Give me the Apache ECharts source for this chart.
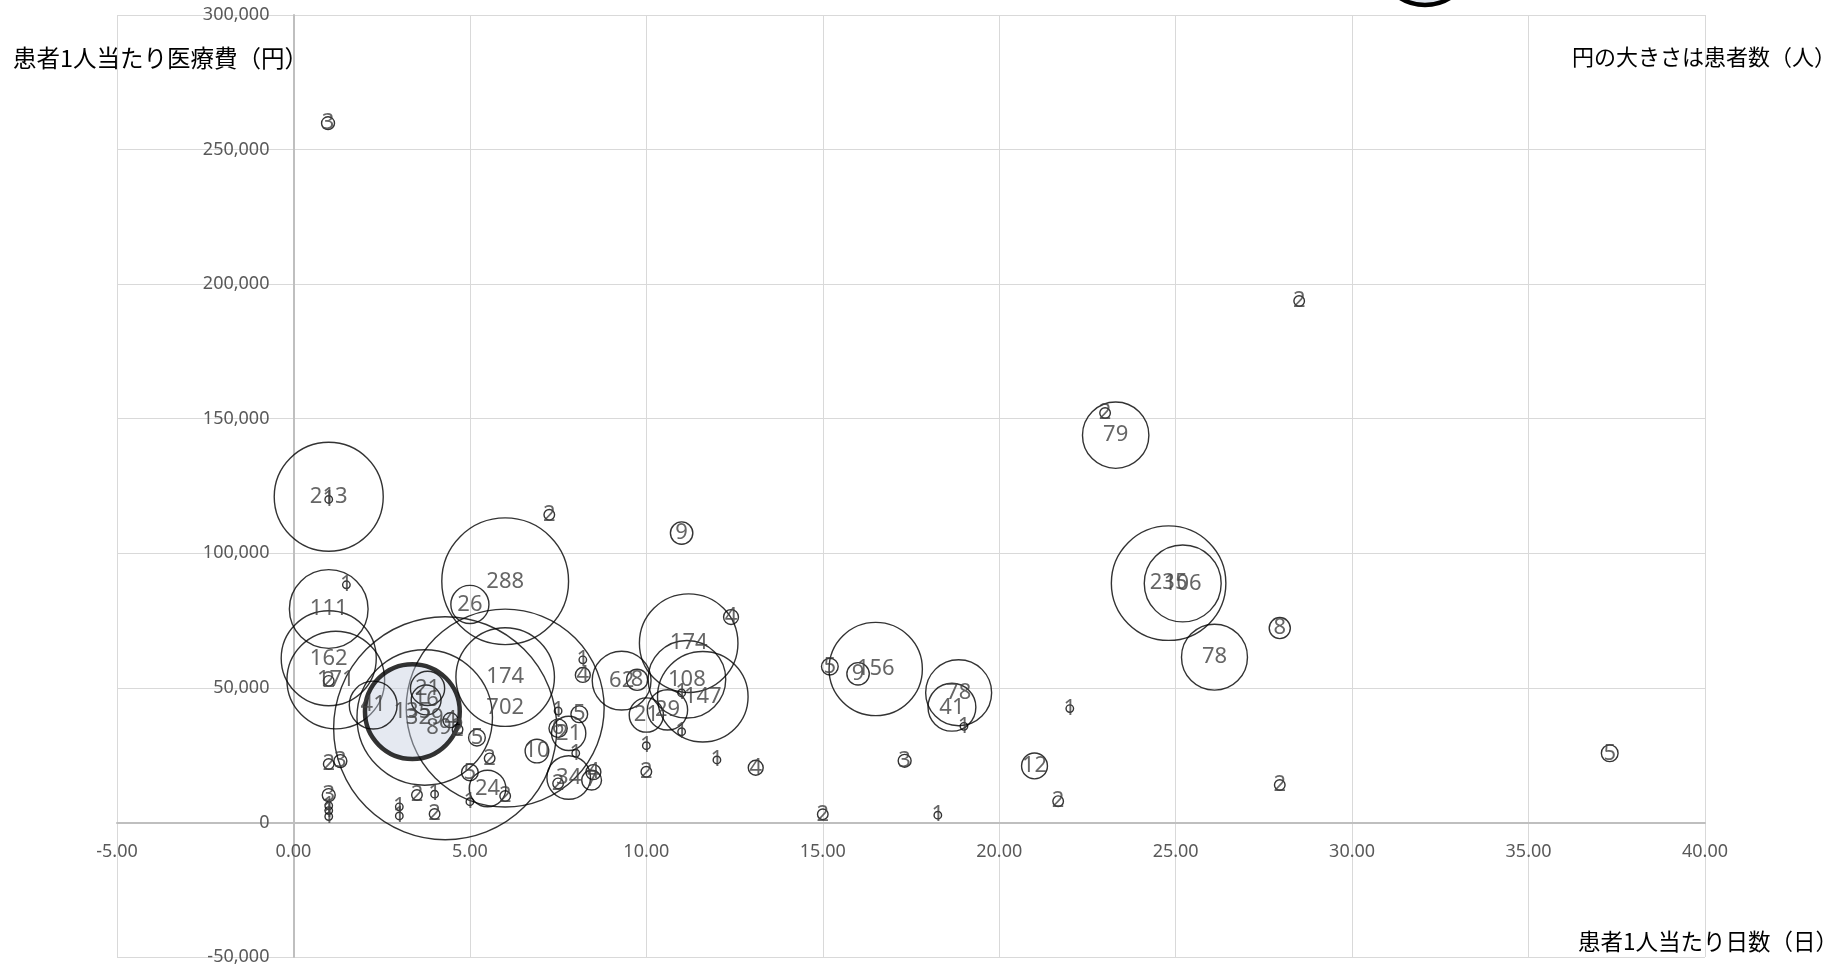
<!DOCTYPE html>
<html><head><meta charset="utf-8">
<script src="https://cdn.jsdelivr.net/npm/echarts@6/dist/echarts.min.js"></script>
<style>html,body{margin:0;padding:0;background:#fff}#c{width:1847px;height:971px}</style>
</head><body><div id="c"></div>
<script>
// 患者1人当たり日数（日）
const days = [0.98,1.0,1.0,1.5,1.0,1.0,1.2,1.0,2.26,1.0,1.33,1.0,1.0,1.0,1.0,3.0,3.0,3.5,4.0,4.0,5.0,5.0,5.5,6.0,5.56,5.2,6.9,6.0,6.0,4.3,3.72,3.8,3.76,4.45,4.65,5.0,6.0,7.25,11.0,8.2,8.2,9.3,9.74,7.5,8.1,7.5,7.8,8.0,7.8,7.5,8.45,8.5,10.0,10.0,10.0,10.6,11.2,12.4,11.15,11.6,11.0,11.0,12.0,13.1,15.0,15.2,16.0,16.5,18.85,18.66,19.0,17.32,18.26,21.0,21.67,22.0,23.0,23.3,28.5,24.8,25.2,27.95,26.1,27.95,37.3];
// 患者1人当たり医療費（円）
const costs = [259800,121000,120000,88300,79300,61000,52900,52600,43600,21700,22800,10150,6200,4400,2200,5800,2400,10200,10500,3100,7700,18600,12600,9800,23800,31500,26500,54000,42500,35000,39000,49800,45500,38000,34500,81000,89600,114300,107500,60400,54800,52700,53000,41400,40200,35000,33100,25700,16700,14500,15700,18700,28500,18800,39900,41800,66600,76300,53200,46700,48100,33700,23200,20300,3000,57900,55200,57000,48200,42800,35700,22900,2700,21000,7900,42300,152100,143900,193700,88900,88800,72200,61400,13900,25700];
// 患者数（人）
const patients = [3,213,1,1,111,162,171,2,41,2,3,3,1,1,1,1,1,2,1,2,1,5,24,2,2,5,10,174,702,892,329,21,16,4,2,26,288,2,9,1,4,62,8,1,5,6,21,1,34,2,7,4,1,2,21,29,174,4,108,147,1,1,1,4,2,5,9,156,78,41,1,3,1,12,2,1,2,79,2,235,106,8,78,2,5];
// 強調表示の点
const hlDays = [3.37];
const hlCosts = [41200];
const hlPatients = [135];

const xMin = -5, xMax = 40, xStep = 5;
const yMin = -50000, yMax = 300000, yStep = 50000;

const W = 1847, H = 971;
const gL = 117, gR = 142, gT = 15, gB = 14;
const gW = W - gL - gR, gH = H - gT - gB;

const chart = echarts.init(document.getElementById('c'), null, {renderer:'canvas'});
const SCALE = 7.47;
const HL_EXTRA = 8;
const pts = days.map((d,i)=>({value:[d,costs[i],patients[i]]}));
hlDays.forEach((d,i)=>pts.push({value:[d,hlCosts[i],hlPatients[i]],
  symbolSize: SCALE*Math.sqrt(hlPatients[i]) + HL_EXTRA,
  itemStyle:{color:'rgba(195,206,222,0.55)',borderColor:'#000',borderWidth:4.5}}));
pts.sort((a,b)=>b.value[2]-a.value[2]);

const tickFont = 'Noto Sans';
const cjk = '"Noto Sans CJK JP"';
chart.setOption({
  animation:false,
  backgroundColor:'#fff',
  grid:{left:gL,right:gR,top:gT,bottom:gB,containLabel:false,outerBoundsMode:'none'},
  xAxis:{type:'value',min:xMin,max:xMax,interval:xStep,
    offset: -((0 - yMin)/(yMax - yMin))*gH,
    axisLine:{onZero:false,lineStyle:{color:'#bfbfbf',width:2}},
    axisTick:{show:false},
    axisLabel:{formatter:v=>v.toFixed(2),margin:20,color:'#595959',fontSize:18,fontFamily:tickFont},
    splitLine:{show:true,lineStyle:{color:'#d9d9d9',width:1}}},
  yAxis:{type:'value',min:yMin,max:yMax,interval:yStep,
    offset: -((0 - xMin)/(xMax - xMin))*gW,
    axisLine:{show:true,onZero:false,lineStyle:{color:'#bfbfbf',width:2}},
    axisTick:{show:false},
    axisLabel:{formatter:v=>v.toLocaleString('en-US'),margin:24,color:'#595959',fontSize:18,fontFamily:tickFont},
    splitLine:{show:true,lineStyle:{color:'#d9d9d9',width:1}}},
  series:[{
    type:'scatter',
    data:pts,
    symbol:'circle',
    symbolSize:v=>SCALE*Math.sqrt(v[2]),
    itemStyle:{color:'rgba(0,0,0,0)',borderColor:'#000',borderWidth:1.4},
    label:{show:true,position:'inside',formatter:p=>String(p.value[2]),color:'#404040',fontSize:22,fontFamily:tickFont},
    emphasis:{disabled:true},
    silent:true
  }],
  graphic:[
    {type:'circle',shape:{cx:1425,cy:-42,r:47},style:{fill:'rgba(195,206,222,0.55)',stroke:'#000',lineWidth:4.5},z:100},
    {type:'text',style:{text:'患者1人当たり医療費（円）',x:13,y:58,fill:'#000',font:'23.5px '+cjk,textAlign:'left',textVerticalAlign:'middle',verticalAlign:'middle'},z:100},
    {type:'text',style:{text:'円の大きさは患者数（人）',x:1836,y:57,fill:'#000',font:'22px '+cjk,textAlign:'right',textVerticalAlign:'middle',verticalAlign:'middle'},z:100},
    {type:'text',style:{text:'患者1人当たり日数（日）',x:1838,y:941,fill:'#000',font:'22.5px '+cjk,textAlign:'right',textVerticalAlign:'middle',verticalAlign:'middle'},z:100}
  ]
});
</script></body></html>
